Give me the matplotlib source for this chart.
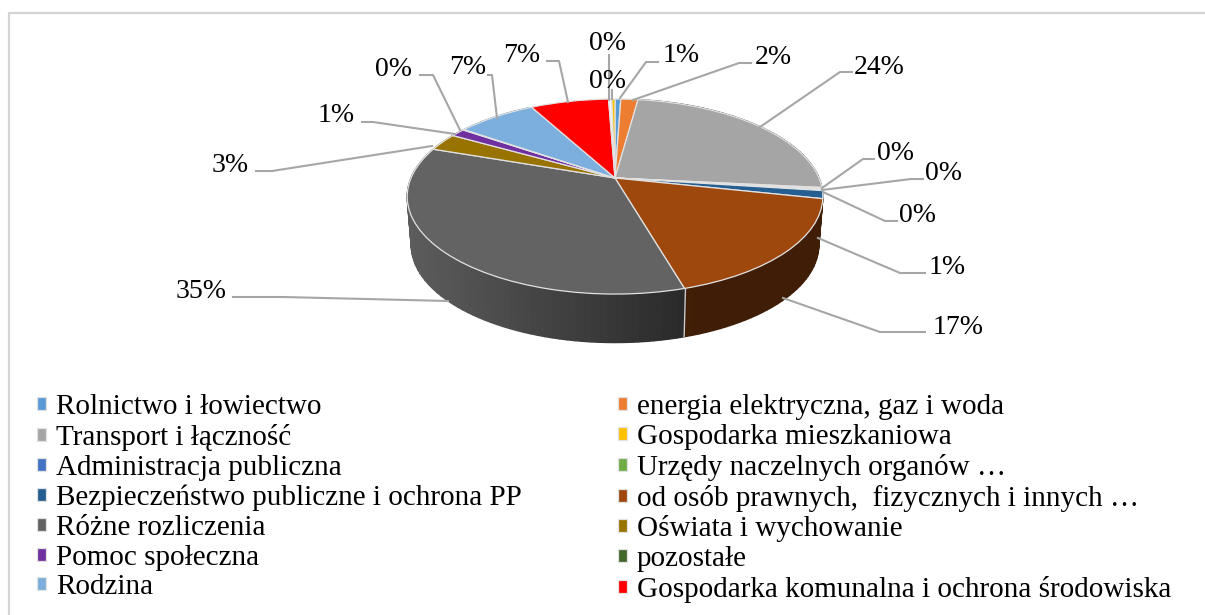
import matplotlib

matplotlib.use("Agg")
import matplotlib.pyplot as plt
import numpy as np
from matplotlib.transforms import Transform

plt.rcParams["font.family"] = ["Liberation Serif", "DejaVu Serif"]

# slices clockwise from 12 o'clock, percent
categories = [
    "Rolnictwo i łowiectwo",
    "energia elektryczna, gaz i woda",
    "Transport i łączność",
    "Gospodarka mieszkaniowa",
    "Administracja publiczna",
    "Urzędy naczelnych organów …",
    "Bezpieczeństwo publiczne i ochrona PP",
    "od osób prawnych,  fizycznych i innych …",
    "Różne rozliczenia",
    "Oświata i wychowanie",
    "Pomoc społeczna",
    "pozostałe",
    "Rodzina",
    "Gospodarka komunalna i ochrona środowiska",
    "",
    "",
]
values = [0.54, 1.6, 24.4, 0.2, 0.15, 0.15, 1.3, 17.1, 34.7, 2.95, 1.35, 0.1, 7.4, 7.3, 0.3, 0.3]
colors = [
    "#5b9bd5", "#ed7d31", "#a5a5a5", "#ffc000", "#4472c4", "#70ad47", "#255e91", "#9e480e",
    "#636363", "#997300", "#7030a0", "#43682b", "#7cafdd", "#ff0000", "#f4f4f4", "#ffc000",
]
n_legend = 14

# label centres and leader polylines, same order as values (pixels)
label_xy = [
    (681, 56), (773, 58), (879, 67), (895, 154), (943, 173), (917, 215), (947, 267), (958, 327),
    (201, 291), (230, 165), (336, 116), (394, 69), (468, 68), (522, 56), (608, 81), (608, 43),
]
leaders = [
    [(658, 62), (646, 62), (620, 98)],
    [(751, 63), (739, 63), (633, 100)],
    [(852, 72), (840, 72), (760, 127)],
    [(874, 159), (863, 159), (822, 188)],
    [(923, 179), (911, 179), (822, 190)],
    [(897, 221), (885, 221), (823, 192)],
    [(925, 273), (900, 273), (818, 238)],
    [(925, 332), (880, 332), (783, 298)],
    [(233, 297), (283, 297), (448, 301)],
    [(256, 171), (272, 171), (432, 146)],
    [(362, 122), (373, 122), (455, 134)],
    [(420, 75), (433, 75), (460, 130)],
    [(488, 75), (492, 75), (497, 118)],
    [(547, 61), (559, 61), (568, 102)],
    [(612, 90), (612, 99)],
    [(609, 55), (609, 100)],
]


class Tilt(Transform):
    """Unit circle to the tilted pie ellipse (perspective), output in pixels."""

    input_dims = 2
    output_dims = 2
    has_inverse = False
    is_separable = False

    def __init__(self, x0=615, y0=178, sx=204.0, sy=94.0, k=0.19):
        super().__init__()
        self.x0, self.y0, self.sx, self.sy, self.k = x0, y0, sx, sy, k

    def transform_non_affine(self, values):
        values = np.asarray(values)
        w = 1 + self.k * values[:, 1]
        return np.column_stack(
            (self.x0 + self.sx * values[:, 0] / w, self.y0 - self.sy * values[:, 1] / w)
        )


top = Tilt()
bottom = Tilt(y0=226.5, sx=200.0)

fig = plt.figure(figsize=(12.05, 6.15), dpi=100)
ax = fig.add_axes([0, 0, 1, 1])

wedges, _ = ax.pie(
    values,
    colors=colors,
    startangle=90,
    counterclock=False,
    normalize=True,
    wedgeprops={"edgecolor": "#e2e2e2", "linewidth": 0.9},
)
for w in wedges:
    w.set_transform(top + ax.transData)
    w.set_zorder(3)

ax.set_aspect("auto")
ax.set_xlim(0, 1205)
ax.set_ylim(615, 0)
ax.set_axis_off()

# side wall, stepped so the shading can run across it
edges = np.cumsum([0] + values)
for i in range(len(values)):
    if edges[i + 1] < 25 or edges[i] > 85:
        continue
    steps = np.linspace(edges[i], edges[i + 1], max(2, int(values[i] * 2)))
    base = np.array(matplotlib.colors.to_rgb(colors[i]))
    for a, b in zip(steps[:-1], steps[1:]):
        th = np.linspace(a, b, 6) / 100 * 2 * np.pi
        unit = np.column_stack((np.sin(th), np.cos(th)))
        up = top.transform(unit)
        low = bottom.transform(unit)
        poly = np.vstack((up, low[::-1]))
        f = np.clip(0.93 - (poly[:, 0].mean() - 410) / 275 * 0.51, 0.4, 0.93)
        ax.fill(poly[:, 0], poly[:, 1], color=base * f, lw=1.0, zorder=1)

# light seam where the two front slices meet on the wall
th = edges[8] / 100 * 2 * np.pi
seam = np.array([[np.sin(th), np.cos(th)]])
p, q = top.transform(seam)[0], bottom.transform(seam)[0]
ax.plot([p[0], q[0]], [p[1], q[1]], color="#c8c8c8", lw=1.0, zorder=2)

# leaders and percent labels
for line, (x, y), v in zip(leaders, label_xy, values):
    pts = np.array(line)
    ax.plot(pts[:, 0], pts[:, 1], color="#a6a6a6", lw=1.5, zorder=4)
    ax.text(x, y, f"{round(v)}%", ha="center", va="center", fontsize=20, color="black", zorder=5)

# legend fills columns first, reference reads row by row
left = list(range(0, n_legend, 2))
right = list(range(1, n_legend, 2))
order = left + right
ax.legend(
    [wedges[i] for i in order],
    [categories[i] for i in order],
    ncol=2,
    loc="upper left",
    bbox_to_anchor=(0.0307, 0.359),
    bbox_transform=fig.transFigure,
    frameon=False,
    fontsize=21,
    borderpad=0,
    borderaxespad=0,
    labelspacing=0.13,
    handlelength=0.31,
    handleheight=0.31,
    handletextpad=0.34,
    columnspacing=3.3,
)

# thin chart border, only top and left reach the crop
ax.plot([9, 9, 1205], [615, 13, 13], color="#d4d4d4", lw=1.6, zorder=0)

fig.savefig("out.png", dpi=100)
